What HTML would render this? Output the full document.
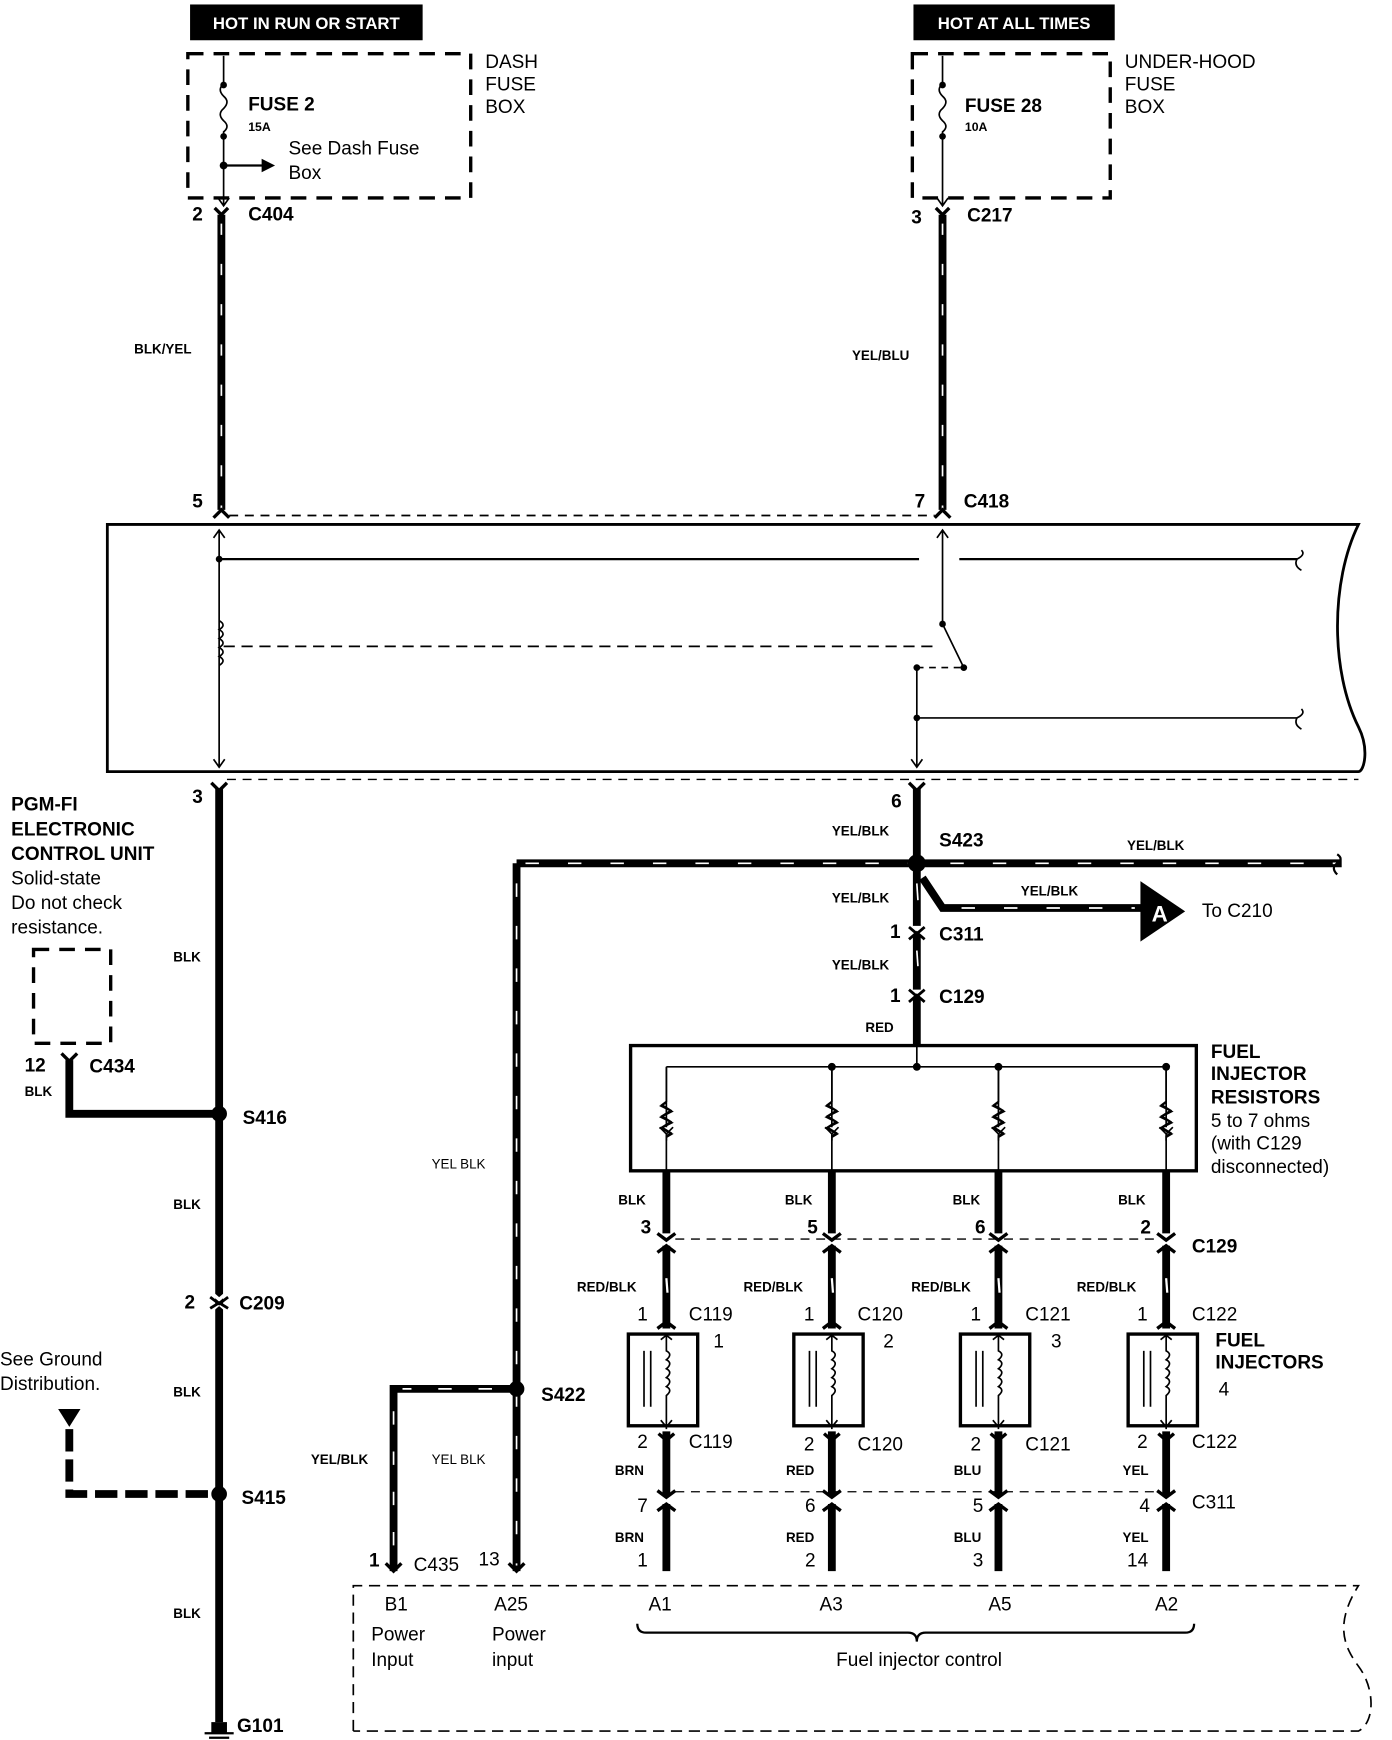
<!DOCTYPE html>
<html><head><meta charset="utf-8"><style>
html,body{margin:0;padding:0;background:#fff}
svg{display:block}
text{font-family:"Liberation Sans",sans-serif;fill:#000}
.b{font-weight:bold;font-size:17px}
.s{font-weight:bold;font-size:12px}
.r{font-size:17px}
</style></head><body>
<svg width="1392" height="1740" viewBox="0 0 1245 1556" preserveAspectRatio="none" xmlns="http://www.w3.org/2000/svg">
<defs>
<g id="conn"><path d="M-6,-7 L0,-1 L6,-7 M0,-1 L0,3" stroke="#000" stroke-width="3" fill="none"/></g>
<g id="col">
  <path d="M0,-93 L0,-40 M-6,-40 L0,-34 L6,-40 M0,-34 L0,-28" stroke="#000" stroke-width="1.5" fill="none"/>
  <path d="M0,-62 l-5,3 l10,5 l-10,5 l10,5 l-10,5 l10,5 l-5,3" stroke="#000" stroke-width="1.5" fill="none"/>
  <line x1="0" y1="0" x2="0" y2="55" stroke="#000" stroke-width="7"/>
  <path d="M-8,55 L0,61 L8,55" stroke="#000" stroke-width="3" fill="none"/>
  <path d="M-8,72 L0,66 L8,72" stroke="#000" stroke-width="3" fill="none"/>
  <line x1="0" y1="66" x2="0" y2="140" stroke="#000" stroke-width="7"/>
  <line x1="0" y1="95" x2="1" y2="108" stroke="#fff" stroke-width="2"/>
  <path d="M-8,140 L0,134 L8,140" stroke="#000" stroke-width="3" fill="none"/>
  <rect x="-34" y="145" width="62" height="82" fill="none" stroke="#000" stroke-width="3"/>
  <line x1="-20" y1="160" x2="-20" y2="210" stroke="#000" stroke-width="1.5"/>
  <line x1="-14" y1="160" x2="-14" y2="210" stroke="#000" stroke-width="1.5"/>
  <path d="M0,146 L0,160 q6,3 0,8 q6,3 0,8 q6,3 0,8 q6,3 0,8 q6,3 0,8 L0,230 M-5,150 L0,146 L5,150 M-5,222 L0,228 L5,222" stroke="#000" stroke-width="1.5" fill="none"/>
  <line x1="0" y1="232" x2="0" y2="290" stroke="#000" stroke-width="7"/>
  <path d="M-7,234 L0,240 L7,234" stroke="#000" stroke-width="3" fill="none"/>
  <path d="M-8,285 L0,291 L8,285 M-8,303 L0,297 L8,303" stroke="#000" stroke-width="3" fill="none"/>
  <line x1="0" y1="297" x2="0" y2="357" stroke="#000" stroke-width="7"/>
</g>
</defs>

<!-- top labels -->
<rect x="170" y="4" width="208" height="32" fill="#000"/>
<text x="274" y="26" text-anchor="middle" style="fill:#fff;font-weight:bold;font-size:15px">HOT IN RUN OR START</text>
<rect x="817" y="4" width="180" height="32" fill="#000"/>
<text x="907" y="26" text-anchor="middle" style="fill:#fff;font-weight:bold;font-size:15px">HOT AT ALL TIMES</text>

<!-- dash fuse box -->
<rect x="168" y="48" width="253" height="129" fill="none" stroke="#000" stroke-width="3" stroke-dasharray="14 9"/>
<text class="b" x="434" y="61" style="font-weight:normal">DASH</text>
<text class="b" x="434" y="81" style="font-weight:normal">FUSE</text>
<text class="b" x="434" y="101" style="font-weight:normal">BOX</text>
<path d="M200,50 L200,75 q-6,5 0,11 q6,5 0,11 q-6,5 0,11 q6,5 0,10 L200,183 M195,177 L200,184 L205,177" stroke="#000" stroke-width="1.5" fill="none"/>
<circle cx="200" cy="76" r="3"/><circle cx="200" cy="122" r="3"/><circle cx="200" cy="148" r="3.5"/>
<path d="M200,148 L236,148" stroke="#000" stroke-width="2"/><path d="M234,142 L246,148 L234,154Z"/>
<text class="b" x="222" y="99">FUSE 2</text>
<text class="s" x="222" y="117" style="font-size:11px">15A</text>
<text class="r" x="258" y="138">See Dash Fuse</text>
<text class="r" x="258" y="160">Box</text>

<!-- underhood fuse box -->
<rect x="816" y="48" width="177" height="129" fill="none" stroke="#000" stroke-width="3" stroke-dasharray="14 9"/>
<text class="b" x="1006" y="61" style="font-weight:normal">UNDER-HOOD</text>
<text class="b" x="1006" y="81" style="font-weight:normal">FUSE</text>
<text class="b" x="1006" y="101" style="font-weight:normal">BOX</text>
<path d="M843,50 L843,75 q-6,5 0,11 q6,5 0,11 q-6,5 0,11 q6,5 0,10 L843,183 M838,177 L843,184 L848,177" stroke="#000" stroke-width="1.5" fill="none"/>
<circle cx="843" cy="76" r="3"/><circle cx="843" cy="122" r="3"/>
<text class="b" x="863" y="100">FUSE  28</text>
<text class="s" x="863" y="117" style="font-size:11px">10A</text>

<!-- vertical wires top -->
<use href="#conn" x="198" y="193"/><use href="#conn" x="843" y="193"/>
<line x1="198" y1="192" x2="198" y2="456" stroke="#000" stroke-width="7"/>
<line x1="198" y1="200" x2="198" y2="456" stroke="#fff" stroke-width="1.5" stroke-dasharray="10 26"/>
<line x1="843" y1="192" x2="843" y2="456" stroke="#000" stroke-width="7"/>
<line x1="843" y1="200" x2="843" y2="456" stroke="#fff" stroke-width="1.5" stroke-dasharray="10 26"/>
<text class="b" x="172" y="197">2</text><text class="b" x="222" y="197">C404</text>
<text class="b" x="815" y="200">3</text><text class="b" x="865" y="198">C217</text>
<text class="s" x="120" y="316">BLK/YEL</text>
<text class="s" x="762" y="322">YEL/BLU</text>
<text class="b" x="172" y="454">5</text>
<text class="b" x="818" y="454">7</text><text class="b" x="862" y="454">C418</text>
<path d="M191,463 L198,456 L205,463 M836,463 L843,456 L850,463" stroke="#000" stroke-width="3" fill="none"/>
<line x1="205" y1="461" x2="836" y2="461" stroke="#000" stroke-width="1.5" stroke-dasharray="8 6"/>

<!-- main unit box -->
<path d="M96,469 L1215,469 C1190,520 1190,600 1215,650 C1225,670 1220,690 1215,690 L96,690 Z" fill="none" stroke="#000" stroke-width="2.5"/>
<path d="M196,474 L196,686 M191,481 L196,474 L201,481 M191,679 L196,686 L201,679" stroke="#000" stroke-width="1.5" fill="none"/>
<line x1="196" y1="500" x2="822" y2="500" stroke="#000" stroke-width="2"/>
<line x1="858" y1="500" x2="1160" y2="500" stroke="#000" stroke-width="2"/>
<path d="M1160,500 q8,-4 4,-8 M1160,500 q-3,6 4,10" stroke="#000" stroke-width="1.5" fill="none"/>
<circle cx="196" cy="500" r="3"/>
<path d="M196,555 q7,4 0,8 q7,4 0,8 q7,4 0,8 q7,4 0,8 q7,4 0,8" stroke="#000" stroke-width="1.5" fill="none"/>
<line x1="200" y1="578" x2="838" y2="578" stroke="#000" stroke-width="1.5" stroke-dasharray="10 6"/>
<path d="M843,474 L843,558 L862,597 M838,481 L843,474 L848,481" stroke="#000" stroke-width="1.5" fill="none"/>
<circle cx="843" cy="558" r="3"/><circle cx="862" cy="597" r="3"/>
<line x1="820" y1="597" x2="860" y2="597" stroke="#000" stroke-width="1.5" stroke-dasharray="6 5"/>
<path d="M820,597 L820,686 M815,679 L820,686 L825,679" stroke="#000" stroke-width="1.5" fill="none"/>
<circle cx="820" cy="597" r="3"/><circle cx="820" cy="642" r="3"/>
<line x1="820" y1="642" x2="1160" y2="642" stroke="#000" stroke-width="1.5"/>
<path d="M1160,642 q8,-4 4,-8 M1160,642 q-3,6 4,10" stroke="#000" stroke-width="1.5" fill="none"/>
<line x1="203" y1="697" x2="1215" y2="697" stroke="#000" stroke-width="1.2" stroke-dasharray="8 6"/>

<!-- left PGM-FI side -->
<path d="M189,700 L196,707 L203,700" stroke="#000" stroke-width="3" fill="none"/>
<text class="b" x="172" y="718">3</text>
<line x1="196" y1="705" x2="196" y2="1540" stroke="#000" stroke-width="7"/>
<text class="b" x="10" y="725">PGM-FI</text>
<text class="b" x="10" y="747">ELECTRONIC</text>
<text class="b" x="10" y="769">CONTROL UNIT</text>
<text class="r" x="10" y="791">Solid-state</text>
<text class="r" x="10" y="813">Do not check</text>
<text class="r" x="10" y="835">resistance.</text>
<rect x="30" y="849" width="69" height="84" fill="none" stroke="#000" stroke-width="3" stroke-dasharray="14 9"/>
<path d="M55,942 L62,949 L69,942" stroke="#000" stroke-width="3" fill="none"/>
<path d="M62,948 L62,996 L196,996" stroke="#000" stroke-width="7" fill="none"/>
<text class="b" x="22" y="958">12</text><text class="b" x="80" y="959">C434</text>
<text class="s" x="22" y="980">BLK</text>
<circle cx="196" cy="996" r="7"/><text class="b" x="217" y="1005">S416</text>
<text class="s" x="155" y="860">BLK</text>
<text class="s" x="155" y="1081">BLK</text>
<path d="M189,1156 L196,1162 L203,1156 M189,1172 L196,1166 L203,1172" stroke="#fff" stroke-width="3" fill="none"/>
<path d="M188,1160 L196,1166 L204,1160 M188,1170 L196,1165 L204,1170" stroke="#000" stroke-width="2.5" fill="none"/>
<text class="b" x="165" y="1170">2</text><text class="b" x="214" y="1171">C209</text>
<text class="s" x="155" y="1249">BLK</text>
<text class="s" x="155" y="1447">BLK</text>
<text class="r" x="0" y="1221">See Ground</text>
<text class="r" x="0" y="1243">Distribution.</text>
<path d="M52,1260 L72,1260 L62,1276Z"/>
<path d="M62,1278 L62,1336 L196,1336" stroke="#000" stroke-width="7" fill="none" stroke-dasharray="20 7"/>
<circle cx="196" cy="1336" r="7"/><text class="b" x="216" y="1345">S415</text>
<rect x="189" y="1540" width="14" height="10"/>
<path d="M183,1550 L209,1550 M187,1554 L205,1554 M192,1557 L200,1557" stroke="#000" stroke-width="2"/>
<text class="b" x="212" y="1549">G101</text>

<!-- right feed -->
<path d="M813,700 L820,707 L827,700" stroke="#000" stroke-width="3" fill="none"/>
<line x1="820" y1="705" x2="820" y2="828" stroke="#000" stroke-width="7"/>
<text class="b" x="797" y="722">6</text>
<text class="s" x="744" y="747">YEL/BLK</text>
<line x1="462" y1="772" x2="1200" y2="772" stroke="#000" stroke-width="7"/>
<line x1="470" y1="772" x2="1195" y2="772" stroke="#fff" stroke-width="1.5" stroke-dasharray="12 26"/>
<path d="M1196,764 q6,4 0,8 q-6,4 0,10" stroke="#000" stroke-width="2" fill="none"/>
<circle cx="820" cy="772" r="8"/>
<text class="b" x="840" y="757">S423</text>
<text class="s" x="1008" y="760">YEL/BLK</text>
<path d="M825,785 L843,812 L1022,812" stroke="#000" stroke-width="7" fill="none"/>
<line x1="860" y1="812" x2="1015" y2="812" stroke="#fff" stroke-width="1.5" stroke-dasharray="12 26"/>
<path d="M1020,788 L1060,815 L1020,842Z"/>
<text x="1030" y="824" style="fill:#fff;font-size:20px;font-weight:bold">A</text>
<text class="r" x="1075" y="820">To C210</text>
<text class="s" x="913" y="801">YEL/BLK</text>
<line x1="820" y1="790" x2="821" y2="805" stroke="#fff" stroke-width="1.5"/>
<text class="s" x="744" y="807">YEL/BLK</text>
<path d="M813,829 L820,835 L827,829 M813,840 L820,834 L827,840" stroke="#000" stroke-width="2.5" fill="none"/>
<text class="b" x="796" y="839">1</text><text class="b" x="840" y="841">C311</text>
<line x1="820" y1="836" x2="820" y2="885" stroke="#000" stroke-width="7"/>
<line x1="820" y1="850" x2="821" y2="864" stroke="#fff" stroke-width="1.5"/>
<text class="s" x="744" y="867">YEL/BLK</text>
<path d="M813,885 L820,891 L827,885 M813,896 L820,890 L827,896" stroke="#000" stroke-width="2.5" fill="none"/>
<text class="b" x="796" y="896">1</text><text class="b" x="840" y="897">C129</text>
<line x1="820" y1="892" x2="820" y2="935" stroke="#000" stroke-width="7"/>
<text class="s" x="774" y="923">RED</text>

<!-- resistor box -->
<rect x="564" y="935" width="506" height="112" fill="none" stroke="#000" stroke-width="3"/>
<line x1="596" y1="954" x2="1043" y2="954" stroke="#000" stroke-width="1.5"/>
<line x1="820" y1="935" x2="820" y2="954" stroke="#000" stroke-width="1.5"/>
<circle cx="744" cy="954" r="3.5"/><circle cx="820" cy="954" r="3.5"/><circle cx="893" cy="954" r="3.5"/><circle cx="1043" cy="954" r="3.5"/>
<g stroke="#000" stroke-width="1.5" fill="none">
<path d="M596,954 L596,985 l-4,3 l8,5 l-8,5 l8,5 l-8,5 l8,5 l-4,3 L596,1047"/>
<path d="M744,954 L744,985 l-4,3 l8,5 l-8,5 l8,5 l-8,5 l8,5 l-4,3 L744,1047"/>
<path d="M893,954 L893,985 l-4,3 l8,5 l-8,5 l8,5 l-8,5 l8,5 l-4,3 L893,1047"/>
<path d="M1043,954 L1043,985 l-4,3 l8,5 l-8,5 l8,5 l-8,5 l8,5 l-4,3 L1043,1047"/>
</g>
<text class="b" x="1083" y="946">FUEL</text>
<text class="b" x="1083" y="966">INJECTOR</text>
<text class="b" x="1083" y="987">RESISTORS</text>
<text class="r" x="1083" y="1008">5 to 7 ohms</text>
<text class="r" x="1083" y="1028">(with C129</text>
<text class="r" x="1083" y="1049">disconnected)</text>

<!-- columns -->
<g transform="translate(596,1047)"><path d="M0,0" /></g>
<use href="#col" x="596" y="1048"/>
<use href="#col" x="744" y="1048"/>
<use href="#col" x="893" y="1048"/>
<use href="#col" x="1043" y="1048"/>
<line x1="604" y1="1108" x2="1036" y2="1108" stroke="#000" stroke-width="1.2" stroke-dasharray="8 6"/>
<line x1="604" y1="1334" x2="1036" y2="1334" stroke="#000" stroke-width="1.2" stroke-dasharray="8 6"/>
<g class="s">
<text class="s" x="553" y="1077">BLK</text><text class="s" x="702" y="1077">BLK</text><text class="s" x="852" y="1077">BLK</text><text class="s" x="1000" y="1077">BLK</text>
<text class="s" x="516" y="1155">RED/BLK</text><text class="s" x="665" y="1155">RED/BLK</text><text class="s" x="815" y="1155">RED/BLK</text><text class="s" x="963" y="1155">RED/BLK</text>
<text class="s" x="550" y="1319">BRN</text><text class="s" x="703" y="1319">RED</text><text class="s" x="853" y="1319">BLU</text><text class="s" x="1004" y="1319">YEL</text>
<text class="s" x="550" y="1379">BRN</text><text class="s" x="703" y="1379">RED</text><text class="s" x="853" y="1379">BLU</text><text class="s" x="1004" y="1379">YEL</text>
</g>
<text class="b" x="573" y="1103">3</text><text class="b" x="722" y="1103">5</text><text class="b" x="872" y="1103">6</text><text class="b" x="1020" y="1103">2</text>
<text class="b" x="1066" y="1120">C129</text>
<g class="r">
<text class="r" x="570" y="1181">1</text><text class="r" x="616" y="1181">C119</text>
<text class="r" x="719" y="1181">1</text><text class="r" x="767" y="1181">C120</text>
<text class="r" x="868" y="1181">1</text><text class="r" x="917" y="1181">C121</text>
<text class="r" x="1017" y="1181">1</text><text class="r" x="1066" y="1181">C122</text>
<text class="r" x="638" y="1205">1</text><text class="r" x="790" y="1205">2</text><text class="r" x="940" y="1205">3</text><text class="r" x="1090" y="1248">4</text>
<text class="r" x="570" y="1295">2</text><text class="r" x="616" y="1295">C119</text>
<text class="r" x="719" y="1297">2</text><text class="r" x="767" y="1297">C120</text>
<text class="r" x="868" y="1297">2</text><text class="r" x="917" y="1297">C121</text>
<text class="r" x="1017" y="1295">2</text><text class="r" x="1066" y="1295">C122</text>
<text class="r" x="570" y="1352">7</text><text class="r" x="720" y="1352">6</text><text class="r" x="870" y="1352">5</text><text class="r" x="1019" y="1352">4</text>
<text class="r" x="1066" y="1349">C311</text>
<text class="r" x="570" y="1401">1</text><text class="r" x="720" y="1401">2</text><text class="r" x="870" y="1401">3</text><text class="r" x="1008" y="1401">14</text>
</g>
<text class="b" x="1087" y="1204">FUEL</text>
<text class="b" x="1087" y="1224">INJECTORS</text>

<!-- left YEL/BLK branch -->
<line x1="462" y1="772" x2="462" y2="1405" stroke="#000" stroke-width="7"/>
<line x1="462" y1="790" x2="462" y2="1400" stroke="#fff" stroke-width="1.5" stroke-dasharray="12 26"/>
<text class="s" x="386" y="1045" style="font-weight:normal">YEL BLK</text>
<circle cx="462" cy="1242" r="7"/><text class="b" x="484" y="1253">S422</text>
<path d="M462,1242 L352,1242 L352,1405" stroke="#000" stroke-width="7" fill="none"/>
<path d="M440,1242 L360,1242 M352,1262 L352,1400" stroke="#fff" stroke-width="1.5" fill="none" stroke-dasharray="12 24"/>
<text class="s" x="278" y="1309">YEL/BLK</text>
<text class="s" x="386" y="1309" style="font-weight:normal">YEL BLK</text>
<path d="M345,1398 L352,1405 L359,1398 M455,1398 L462,1405 L469,1398" stroke="#000" stroke-width="3" fill="none"/>
<text class="b" x="330" y="1401">1</text><text class="r" x="370" y="1405">C435</text><text class="r" x="428" y="1400">13</text>

<!-- bottom ECU box -->
<path d="M316,1548 L316,1418 L1215,1418 C1195,1450 1200,1470 1215,1490 C1230,1510 1230,1540 1215,1548 L316,1548" fill="none" stroke="#000" stroke-width="1.5" stroke-dasharray="10 6"/>
<text class="r" x="344" y="1440">B1</text>
<text class="r" x="332" y="1467">Power</text><text class="r" x="332" y="1490">Input</text>
<text class="r" x="442" y="1440">A25</text>
<text class="r" x="440" y="1467">Power</text><text class="r" x="440" y="1490">input</text>
<text class="r" x="580" y="1440">A1</text><text class="r" x="733" y="1440">A3</text><text class="r" x="884" y="1440">A5</text><text class="r" x="1033" y="1440">A2</text>
<path d="M570,1452 q0,8 8,8 L812,1460 q8,0 8,8 q0,-8 8,-8 L1060,1460 q8,0 8,-8" stroke="#000" stroke-width="2" fill="none"/>
<text class="r" x="822" y="1490" text-anchor="middle">Fuel injector control</text>
</svg>
</body></html>
